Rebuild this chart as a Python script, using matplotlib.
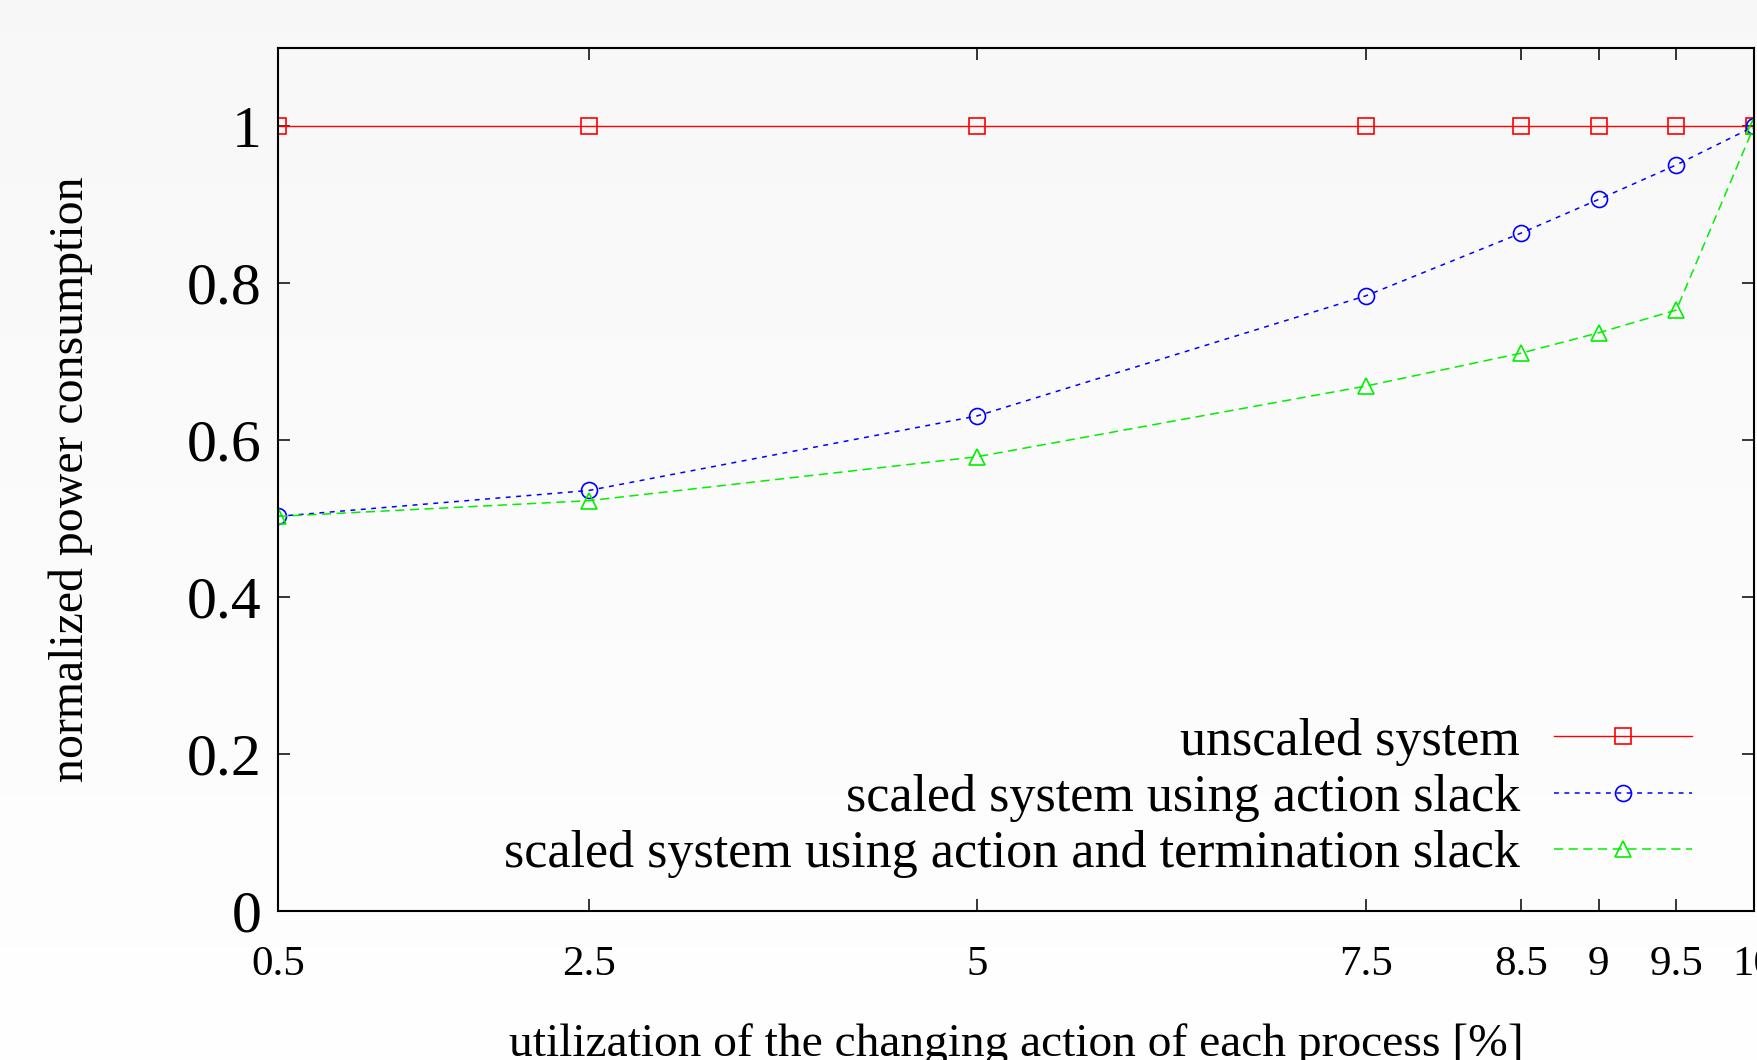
import numpy as np
import matplotlib
matplotlib.use('Agg')
import matplotlib.pyplot as plt

plt.rcParams['font.family'] = ['Liberation Serif', 'DejaVu Serif']

# data
util = [0.5, 2.5, 5, 7.5, 8.5, 9, 9.5, 10]
unscaled = [1.0, 1.0, 1.0, 1.0, 1.0, 1.0, 1.0, 1.0]
action_slack = [0.503, 0.536, 0.631, 0.784, 0.864, 0.907, 0.951, 1.0]
action_term_slack = [0.503, 0.523, 0.579, 0.669, 0.711, 0.737, 0.766, 1.0]

xticks = [0.5, 2.5, 5, 7.5, 8.5, 9, 9.5, 10]
xtick_labels = ['0.5', '2.5', '5', '7.5', '8.5', '9', '9.5', '10']
yticks = [0, 0.2, 0.4, 0.6, 0.8, 1]
ytick_labels = ['0', '0.2', '0.4', '0.6', '0.8', '1']

labels = ['unscaled system',
          'scaled system using action slack',
          'scaled system using action and termination slack']

fig = plt.figure(figsize=(17.57, 10.60), dpi=100)

# light grey gradient background
bg = fig.add_axes([0, 0, 1, 1], zorder=-5)
grad = np.linspace(0.968, 0.995, 256).reshape(-1, 1)
bg.imshow(grad, cmap='gray', vmin=0, vmax=1, aspect='auto', origin='upper',
          extent=[0, 1, 0, 1])
bg.axis('off')

ax = fig.add_axes([278/1757, 1 - 911/1060, 1476/1757, 863/1060])
ax.set_facecolor('none')

ax.plot(util, unscaled, color='#ff0000', lw=1.0, marker='s', ms=11.5,
        mfc='none', mec='#ff0000', mew=1.2, label=labels[0])
ax.plot(util, action_slack, color='#0000ff', lw=1.1, dashes=(3.2, 3.6),
        marker='o', ms=11.5, mfc='none', mec='#0000ff', mew=1.2, label=labels[1])
ax.plot(util, action_term_slack, color='#00f000', lw=1.1, dashes=(6, 3.6),
        marker='^', ms=11.5, mfc='none', mec='#00f000', mew=1.2, label=labels[2])

ax.set_xlim(0.5, 10)
ax.set_ylim(0, 1.1)
ax.set_xticks(xticks)
ax.set_xticklabels(xtick_labels)
ax.set_yticks(yticks)
ax.set_yticklabels(ytick_labels)

ax.tick_params(axis='both', direction='in', length=8.5, width=1.1,
               top=True, right=True, colors='black')
ax.tick_params(axis='x', labelsize=31, pad=25)
ax.tick_params(axis='y', labelsize=43, pad=12)
for s in ax.spines.values():
    s.set_linewidth(1.5)

ax.set_xlabel('utilization of the changing action of each process [%]', fontsize=34.2)
ax.xaxis.set_label_coords(0.5, -0.13)
ax.xaxis.label.set_va('top')
ax.set_ylabel('normalized power consumption', fontsize=34.4)
ax.yaxis.set_label_coords(-0.125, 0.5)

leg = ax.legend(loc='center right', bbox_to_anchor=(0.958, 0.131),
                frameon=False, markerfirst=False, fontsize=37.5,
                handlelength=2.65, handletextpad=0.65, labelspacing=0.16,
                borderpad=0, borderaxespad=0)

fig.savefig('out.png', dpi=100)
